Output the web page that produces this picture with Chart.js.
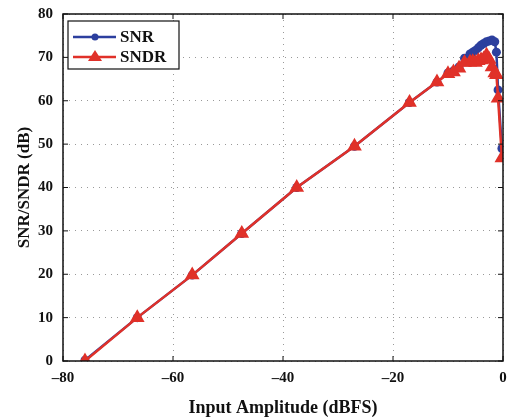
<!DOCTYPE html>
<html>
<head>
<meta charset="utf-8">
<script src="https://cdn.jsdelivr.net/npm/chart.js@4"></script>
<style>
  html, body { margin: 0; padding: 0; background: #fff; }
  #wrap { width: 514px; height: 419px; }
</style>
</head>
<body>
<div id="wrap"><canvas id="canvas" width="514" height="419"></canvas></div>
<script>
// input amplitude (dBFS)
var amplitude = [-76, -66.5, -56.5, -47.5, -37.5, -27, -17, -12, -10, -9, -8, -7, -6, -5.5, -5, -4.5, -4, -3.5, -3, -2.5, -2, -1.5, -1.2, -0.9, -0.2];
var snr  = [0.2, 10, 19.8, 29.4, 40, 49.5, 59.6, 64.3, 66.4, 66.9, 67.8, 69.8, 70.8, 71.2, 71.6, 72.2, 72.8, 73.2, 73.6, 73.8, 74, 73.6, 71.2, 62.5, 49];
var sndr = [0, 10, 19.8, 29.4, 40, 49.5, 59.6, 64.3, 66.2, 66.6, 67.5, 68.8, 68.9, 69, 68.8, 69.2, 69.4, 69.6, 70.5, 69.5, 67.8, 66.4, 66, 60.6, 46.8];
var xTicks = [-80, -60, -40, -20, 0];
var yTicks = [0, 10, 20, 30, 40, 50, 60, 70, 80];

var blue = '#2c3f9e';
var red = '#e03129';
var serif = "'Liberation Serif', 'DejaVu Serif', serif";

function pts(ys) {
    return amplitude.map(function (x, i) { return { x: x, y: ys[i] }; });
}

// box round plot + inward ticks + legend inside
var framePlugin = {
    id: 'frame',
    afterDraw: function (chart) {
        var ctx = chart.ctx, a = chart.chartArea;
        var xs = chart.scales.x, ys = chart.scales.y;
        ctx.save();
        ctx.strokeStyle = '#111';
        ctx.lineWidth = 1.5;
        ctx.strokeRect(a.left, a.top, a.right - a.left, a.bottom - a.top);
        ctx.lineWidth = 1;
        xTicks.forEach(function (v) {
            var p = xs.getPixelForValue(v);
            ctx.beginPath();
            ctx.moveTo(p, a.bottom); ctx.lineTo(p, a.bottom - 5);
            ctx.moveTo(p, a.top); ctx.lineTo(p, a.top + 5);
            ctx.stroke();
        });
        yTicks.forEach(function (v) {
            var p = ys.getPixelForValue(v);
            ctx.beginPath();
            ctx.moveTo(a.left, p); ctx.lineTo(a.left + 5, p);
            ctx.moveTo(a.right, p); ctx.lineTo(a.right - 5, p);
            ctx.stroke();
        });

        // legend
        var lx = a.left + 5, ly = a.top + 7, lw = 111, lh = 48;
        ctx.fillStyle = '#fff';
        ctx.fillRect(lx, ly, lw, lh);
        ctx.strokeStyle = '#111';
        ctx.lineWidth = 1.2;
        ctx.strokeRect(lx, ly, lw, lh);
        ctx.font = 'bold 17px ' + serif;
        ctx.textBaseline = 'middle';
        chart.data.datasets.forEach(function (ds, i) {
            var yy = ly + 16 + i * 20;
            ctx.strokeStyle = ds.borderColor;
            ctx.lineWidth = 2.5;
            ctx.beginPath();
            ctx.moveTo(lx + 5, yy); ctx.lineTo(lx + 48, yy);
            ctx.stroke();
            ctx.fillStyle = ds.backgroundColor;
            ctx.beginPath();
            if (ds.pointStyle === 'triangle') {
                ctx.moveTo(lx + 27, yy - 7);
                ctx.lineTo(lx + 34, yy + 4);
                ctx.lineTo(lx + 20, yy + 4);
                ctx.closePath();
            } else {
                ctx.arc(lx + 27, yy, 3.5, 0, Math.PI * 2);
            }
            ctx.fill();
            ctx.fillStyle = '#111';
            ctx.fillText(ds.label, lx + 52, yy + 1);
        });
        ctx.restore();
    }
};

var ctx = document.getElementById('canvas').getContext('2d');
var myChart = new Chart(ctx, {
    type: 'line',
    data: {
        datasets: [{
            label: 'SNR',
            data: pts(snr),
            borderColor: blue,
            backgroundColor: blue,
            borderWidth: 2.5,
            pointStyle: 'circle',
            pointRadius: 4.5,
            pointBorderWidth: 0,
            order: 2
        }, {
            label: 'SNDR',
            data: pts(sndr),
            borderColor: red,
            backgroundColor: red,
            borderWidth: 2.5,
            pointStyle: 'triangle',
            pointRadius: 7,
            pointBorderWidth: 1.5,
            order: 1
        }]
    },
    plugins: [framePlugin],
    options: {
        responsive: false,
        animation: false,
        layout: { padding: { left: 0, right: 11, top: 14, bottom: 0 } },
        plugins: {
            legend: { display: false },
            tooltip: { enabled: false }
        },
        scales: {
            x: {
                type: 'linear',
                min: -80,
                max: 0,
                afterBuildTicks: function (s) { s.ticks = xTicks.map(function (v) { return { value: v }; }); },
                afterFit: function (s) { s.height = 58; s.paddingLeft = 0; s.paddingRight = 0; },
                grid: {
                    color: '#999',
                    lineWidth: 1,
                    drawTicks: false
                },
                border: { display: false, dash: [1, 5] },
                ticks: {
                    color: '#111',
                    padding: 8,
                    font: { family: serif, weight: 'bold', size: 15 },
                    callback: function (v) { return String(v).replace('-', '\u2013'); }
                },
                title: {
                    display: true,
                    text: 'Input Amplitude (dBFS)',
                    color: '#111',
                    font: { family: serif, weight: 'bold', size: 18 },
                    padding: { top: 4, bottom: 0 }
                }
            },
            y: {
                min: 0,
                max: 80,
                afterBuildTicks: function (s) { s.ticks = yTicks.map(function (v) { return { value: v }; }); },
                afterFit: function (s) { s.width = 63; s.paddingTop = 0; s.paddingBottom = 0; },
                grid: {
                    color: '#999',
                    lineWidth: 1,
                    drawTicks: false
                },
                border: { display: false, dash: [1, 5] },
                ticks: {
                    color: '#111',
                    padding: 10,
                    font: { family: serif, weight: 'bold', size: 15 }
                },
                title: {
                    display: true,
                    text: 'SNR/SNDR (dB)',
                    color: '#111',
                    font: { family: serif, weight: 'bold', size: 17 },
                    padding: { top: 14, bottom: 0 }
                }
            }
        }
    }
});
</script>
</body>
</html>
